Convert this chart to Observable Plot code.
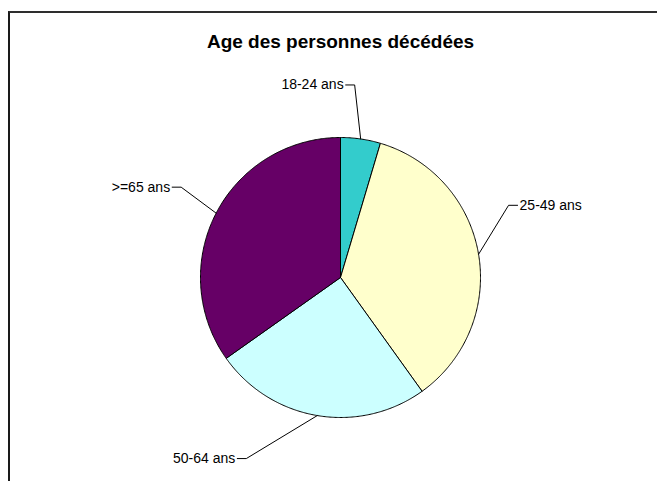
<!DOCTYPE html>
<html><head><meta charset="utf-8">
<script src="https://cdn.jsdelivr.net/npm/d3@7"></script>
<script src="https://cdn.jsdelivr.net/npm/@observablehq/plot@0.6"></script>
<style>
html,body{margin:0;padding:0;background:#fff;}
#chart{position:relative;width:657px;height:481px;overflow:hidden;}
#chart svg{position:absolute;left:0;top:0;}
#border{position:absolute;left:8px;top:11px;width:700px;height:600px;border-top:2px solid #2e2e2e;border-left:2px solid #1a1a1a;pointer-events:none;}
</style></head><body>
<div id="chart"></div>
<script>
// ---- data ----
const title = "Age des personnes décédées";
const categories = ["18-24 ans", "25-49 ans", "50-64 ans", ">=65 ans"];
const values = [4.6, 35.5, 25.1, 34.8];
const colors = ["#33CCCC", "#FFFFCC", "#CCFFFF", "#660066"];
// ---- layout (label leader elbows, offset from slice edge midpoint) ----
const labelOffsets = [[-6, -54], [30, -49], [-71, 43], [-35, -26]];
const W = 657, H = 481, cx = 340, cy = 277, R = 140, tick = 9, gap = 2;
const titleY = 41;

const arcs = d3.pie().sort(null)(values);
const px = a => cx + R * Math.sin(a);
const py = a => cy - R * Math.cos(a);

const marks = [];
arcs.forEach((a, i) => {
  const pts = [{x: cx, y: cy}];
  const n = Math.max(2, Math.ceil((a.endAngle - a.startAngle) / (Math.PI / 360)));
  for (let k = 0; k <= n; k++) {
    const t = a.startAngle + (a.endAngle - a.startAngle) * k / n;
    pts.push({x: px(t), y: py(t)});
  }
  pts.push({x: cx, y: cy});
  marks.push(Plot.line(pts, {x: "x", y: "y", fill: colors[i], stroke: "#000", strokeWidth: 1, strokeLinejoin: "round"}));
});

const leaders = [];
const labelsL = [], labelsR = [];
arcs.forEach((a, i) => {
  const m = (a.startAngle + a.endAngle) / 2;
  const ex = px(m), ey = py(m);
  const [ox, oy] = labelOffsets[i];
  const bx = ex + ox, by = ey + oy;
  const side = ox > 0 ? 1 : -1;
  const tx = bx + side * tick;
  leaders.push({k: i, x: ex, y: ey}, {k: i, x: bx, y: by}, {k: i, x: tx, y: by});
  (side > 0 ? labelsR : labelsL).push({x: tx + side * gap, y: by, text: categories[i]});
});
marks.push(Plot.line(leaders, {x: "x", y: "y", z: "k", stroke: "#000", strokeWidth: 1}));
const font = {fontFamily: "Liberation Sans, Arial, sans-serif", fill: "#000", fontSize: 14};
marks.push(Plot.text(labelsL, {x: "x", y: "y", text: "text", textAnchor: "end", ...font}));
marks.push(Plot.text(labelsR, {x: "x", y: "y", text: "text", textAnchor: "start", ...font}));
marks.push(Plot.text([title], {x: () => cx, y: () => titleY, text: d => d, textAnchor: "middle", fontWeight: "bold", ...font, fontSize: 19}));

const chart = Plot.plot({
  width: W, height: H, margin: 0,
  x: {domain: [0, W], range: [0, W], axis: null},
  y: {domain: [0, H], range: [0, H], axis: null},
  style: {background: "transparent"},
  marks
});
const host = document.getElementById("chart");
host.appendChild(chart);
const b = document.createElement("div"); b.id = "border"; host.appendChild(b);
</script>
</body></html>
